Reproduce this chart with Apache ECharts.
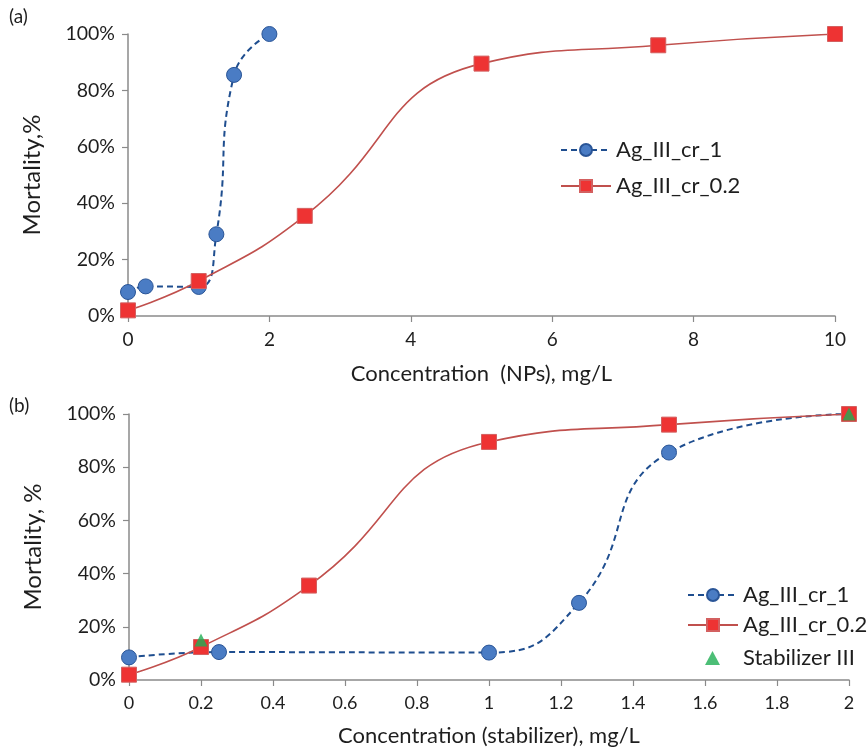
<!DOCTYPE html>
<html>
<head>
<meta charset="utf-8">
<script src="https://cdn.jsdelivr.net/npm/echarts@6/dist/echarts.min.js"></script>
<style>html,body{margin:0;padding:0;background:#fff}#c{width:867px;height:754px}</style>
</head>
<body>
<div id="c"></div>
<script>
// Panel (a): concentration of NPs, mg/L
const a_cr1_x = [0, 0.25, 1, 1.25, 1.5, 2];
const a_cr1_y = [8.5, 10.5, 10.3, 29, 85.5, 100];
const a_cr02_x = [0, 1, 2.5, 5, 7.5, 10];
const a_cr02_y = [2, 12.4, 35.5, 89.5, 96, 100];
// Panel (b): concentration of stabilizer, mg/L
const b_cr1_x = [0, 0.25, 1, 1.25, 1.5, 2];
const b_cr1_y = [8.5, 10.5, 10.3, 29, 85.5, 100];
const b_cr02_x = [0, 0.2, 0.5, 1, 1.5, 2];
const b_cr02_y = [2, 12.4, 35.5, 89.5, 96, 100];
const b_stab_x = [0.2, 2];
const b_stab_y = [15, 100];

const seriesNames = ['Ag_III_cr_1', 'Ag_III_cr_0.2', 'Stabilizer III'];
const yTicks = [0, 20, 40, 60, 80, 100];

const pair = (xs, ys) => xs.map((x, i) => [x, ys[i]]);
const FONT = 'Lato';
const TXT = '#1e1e1e';
const AX = '#8a8a8a';

const blueSeries = (xi, yi, data) => ({
  name: seriesNames[0], type: 'line', xAxisIndex: xi, yAxisIndex: yi, data,
  smooth: 0.5, symbol: 'circle', symbolSize: 15,
  lineStyle: { color: '#1f4e8f', width: 2, type: [6, 4] },
  itemStyle: { color: '#4a7cc4', borderColor: '#2a5597', borderWidth: 1 },
  z: 2
});
const redSeries = (xi, yi, data) => ({
  name: seriesNames[1], type: 'line', xAxisIndex: xi, yAxisIndex: yi, data,
  smooth: 0.5, symbol: 'rect', symbolSize: 15,
  lineStyle: { color: '#c0504d', width: 1.6 },
  itemStyle: { color: '#ee3333', borderColor: '#d36060', borderWidth: 1 },
  z: 3
});

const xAxisBase = {
  type: 'value',
  axisLine: { show: true, onZero: false, lineStyle: { color: AX, width: 1.5 } },
  axisTick: { show: true, length: 6, lineStyle: { color: AX, width: 1.2 } },
  splitLine: { show: false },
  axisLabel: { color: TXT, fontFamily: FONT, fontSize: 19, margin: 14 },
  nameLocation: 'middle',
  nameTextStyle: { color: TXT, fontFamily: FONT, fontSize: 22 }
};
const yAxisBase = {
  type: 'value', min: 0, max: 100, interval: 20,
  axisLine: { show: true, lineStyle: { color: AX, width: 1.5 } },
  axisTick: { show: true, length: 6, lineStyle: { color: AX, width: 1.2 } },
  splitLine: { show: false },
  axisLabel: { color: TXT, fontFamily: FONT, fontSize: 19.5, margin: 13,
    formatter: v => yTicks.includes(v) ? v + '%' : '' },
  nameLocation: 'middle', nameGap: 84,
  nameTextStyle: { color: TXT, fontFamily: FONT, fontSize: 24 }
};
const legendText = { color: TXT, fontFamily: FONT, fontSize: 22 };

const chart = echarts.init(document.getElementById('c'), null, { renderer: 'canvas' });
chart.setOption({
  backgroundColor: '#fff',
  animation: false,
  grid: [
    { left: 128, top: 34, width: 707, height: 282 },
    { left: 129, top: 414, width: 720, height: 266 }
  ],
  xAxis: [
    Object.assign({}, xAxisBase, { gridIndex: 0, min: 0, max: 10, interval: 2,
      name: 'Concentration  (NPs), mg/L', nameGap: 47 }),
    Object.assign({}, xAxisBase, { gridIndex: 1, min: 0, max: 2, interval: 0.2,
      name: 'Concentration (stabilizer), mg/L', nameGap: 45,
      axisLabel: Object.assign({}, xAxisBase.axisLabel, { fontSize: 18, formatter: v => String(+v.toFixed(1)) }) })
  ],
  yAxis: [
    Object.assign({}, yAxisBase, { gridIndex: 0, name: 'Mortality,%' }),
    Object.assign({}, yAxisBase, { gridIndex: 1, name: 'Mortality, %' })
  ],
  legend: [
    { orient: 'vertical', left: 555, top: 134, itemWidth: 50, itemHeight: 15, itemGap: 14,
      data: [seriesNames[0], seriesNames[1]], selectedMode: false, textStyle: legendText },
    { orient: 'vertical', left: 682, top: 579, itemWidth: 50, itemHeight: 15, itemGap: 8,
      data: [seriesNames[0], seriesNames[1]], selectedMode: false, textStyle: legendText },
    { orient: 'vertical', left: 700, top: 642, itemWidth: 15, itemHeight: 14,
      data: [seriesNames[2]], selectedMode: false,
      textStyle: Object.assign({}, legendText, { padding: [0, 0, 0, 18] }) }
  ],
  graphic: [
    { type: 'text', left: 9, top: 7, style: { text: '(a)', fill: TXT, font: '19px Lato' } },
    { type: 'text', left: 9, top: 396, style: { text: '(b)', fill: TXT, font: '19px Lato' } }
  ],
  series: [
    blueSeries(0, 0, pair(a_cr1_x, a_cr1_y)),
    redSeries(0, 0, pair(a_cr02_x, a_cr02_y)),
    blueSeries(1, 1, pair(b_cr1_x, b_cr1_y)),
    redSeries(1, 1, pair(b_cr02_x, b_cr02_y)),
    { name: seriesNames[2], type: 'scatter', xAxisIndex: 1, yAxisIndex: 1,
      data: pair(b_stab_x, b_stab_y), symbol: 'triangle', symbolSize: 13,
      itemStyle: { color: '#1fae54' }, z: 4 }
  ]
});
</script>
</body>
</html>
